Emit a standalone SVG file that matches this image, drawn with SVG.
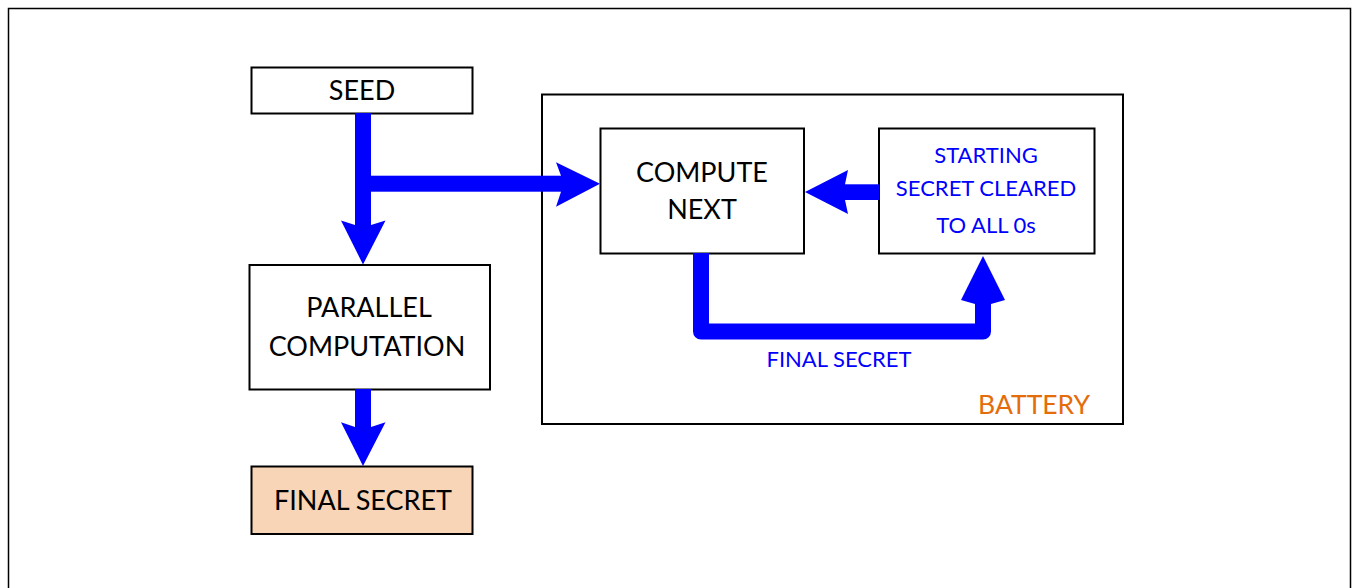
<svg xmlns="http://www.w3.org/2000/svg" width="1353" height="588" viewBox="0 0 1353 588">
<style>
.box{fill:#fff;stroke:#000;stroke-width:2}
.t{font-family:Lato,"Liberation Sans",sans-serif;font-size:27px;fill:#000;text-anchor:middle}
.b{font-family:Lato,"Liberation Sans",sans-serif;font-size:22px;fill:#0000FF;text-anchor:middle}
.arrow{fill:#0000FF;stroke:none}
.shaft{fill:none;stroke:#0000FF;stroke-width:16}
</style>
<rect width="1353" height="588" fill="#fff"/>
<path d="M8.5 600 V8.5 H1350.5 V600" fill="none" stroke="#000" stroke-width="1.5"/>
<g id="battery">
<rect class="box" x="542" y="94.5" width="581" height="329.5"/>
<text x="1090" y="414" font-family="Lato,'Liberation Sans',sans-serif" font-size="26.5" fill="#E46C0A" text-anchor="end">BATTERY</text>
</g>
<g id="seed">
<rect class="box" x="251.5" y="67.5" width="221" height="46"/>
<text class="t" x="362" y="100">SEED</text>
</g>
<g id="parallel">
<rect class="box" x="249.5" y="265" width="240.5" height="124.5"/>
<text class="t" x="369" y="317">PARALLEL</text>
<text class="t" x="367" y="355.5">COMPUTATION</text>
</g>
<g id="final">
<rect x="251.5" y="466.5" width="221" height="67.5" fill="#F8D5B6" stroke="#000" stroke-width="2"/>
<text class="t" x="363" y="510">FINAL SECRET</text>
</g>
<g id="compute">
<rect class="box" x="600.5" y="128.5" width="203.5" height="125"/>
<text class="t" x="702" y="181.5">COMPUTE</text>
<text class="t" x="702" y="219">NEXT</text>
</g>
<g id="starting">
<rect class="box" x="879" y="128.5" width="215.5" height="125"/>
<text class="b" x="986" y="163">STARTING</text>
<text class="b" x="986" y="196">SECRET CLEARED</text>
<text class="b" x="986" y="232.5">TO ALL 0s</text>
</g>
<g id="connectors">
<rect class="arrow" x="355" y="113" width="16" height="114"/>
<polygon class="arrow" points="341,220.5 355,225 371,225 385.5,220.5 363,264.5"/>
<rect class="arrow" x="355" y="175.7" width="206" height="16"/>
<polygon class="arrow" points="556,162.3 561,175.7 561,191.7 556,206.7 600,183.7"/>
<rect class="arrow" x="355" y="389" width="16" height="38"/>
<polygon class="arrow" points="341,422.3 355,427 371,427 385.5,422.3 363,466"/>
<rect class="arrow" x="845" y="184.3" width="34" height="15.7"/>
<polygon class="arrow" points="848,170 845,184.3 845,200 848,214 805,192"/>
<path class="shaft" d="M701 253 V331.5 H983 V303" stroke-linejoin="round"/>
<polygon class="arrow" points="961,300 975,304 991,304 1005,300 983,256"/>
<text class="b" x="839" y="366.5">FINAL SECRET</text>
</g>
</svg>
